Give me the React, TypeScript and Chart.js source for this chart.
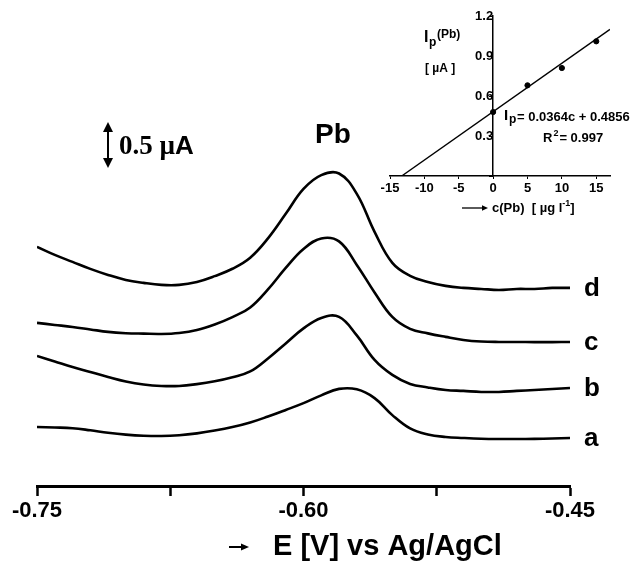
import React, { useEffect, useRef } from 'react';
import { Chart, registerables } from 'chart.js';

Chart.register(...registerables);

// ---------- main voltammogram data ----------
const potentials = [
  -0.75, -0.74, -0.73, -0.72, -0.71, -0.70, -0.69, -0.68, -0.67, -0.66, -0.65,
  -0.64, -0.63, -0.62, -0.61, -0.60, -0.59, -0.58, -0.57, -0.56, -0.55, -0.54,
  -0.53, -0.52, -0.51, -0.50, -0.49, -0.48, -0.47, -0.46, -0.45,
];
const currentA = [
  0.641, 0.636, 0.628, 0.605, 0.578, 0.558, 0.546, 0.543, 0.552, 0.572, 0.602,
  0.640, 0.690, 0.755, 0.826, 0.900, 0.985, 1.055, 1.050, 0.955, 0.770, 0.625,
  0.560, 0.533, 0.522, 0.514, 0.511, 0.511, 0.512, 0.516, 0.522,
];
const currentB = [
  1.413, 1.353, 1.293, 1.239, 1.185, 1.136, 1.103, 1.087, 1.087, 1.107, 1.138,
  1.182, 1.245, 1.386, 1.549, 1.712, 1.826, 1.837, 1.636, 1.370, 1.207, 1.109,
  1.071, 1.043, 1.033, 1.022, 1.022, 1.033, 1.043, 1.054, 1.065,
];
const currentC = [
  1.772, 1.750, 1.728, 1.701, 1.674, 1.660, 1.655, 1.652, 1.663, 1.695, 1.755,
  1.835, 1.940, 2.136, 2.370, 2.576, 2.690, 2.658, 2.402, 2.103, 1.837, 1.707,
  1.658, 1.620, 1.587, 1.570, 1.565, 1.565, 1.563, 1.563, 1.565,
];
const currentD = [
  2.598, 2.511, 2.435, 2.359, 2.293, 2.239, 2.207, 2.185, 2.185, 2.217, 2.280,
  2.360, 2.480, 2.690, 2.957, 3.228, 3.378, 3.395, 3.174, 2.761, 2.424, 2.283,
  2.217, 2.174, 2.152, 2.141, 2.130, 2.141, 2.141, 2.152, 2.152,
];
const seriesNames = ['a', 'b', 'c', 'd'];
const xTickLabels = ['-0.75', '-0.60', '-0.45'];
const scaleBarValue = 0.5;
const scaleBarText = '0.5 \u00b5';
const scaleBarUnit = 'A';
const peakLabel = 'Pb';
const xTitle = 'E [V] vs Ag/AgCl';

// ---------- inset calibration data ----------
const calConc = [0, 5, 10, 15];
const calIp = [0.48, 0.68, 0.81, 1.01];
const fitConc = [-13.3, 17];
const fitIp = [0, 1.1];
const insetXTicks = [-15, -10, -5, 0, 5, 10, 15];
const insetYTicks = ['0.3', '0.6', '0.9', '1.2'];
const eqText = '= 0.0364c + 0.4856';
const r2Text = '= 0.997';
const insetXTitle = 'c(Pb)  [ \u00b5g l';
const insetXTitleSup = '-1';

const SANS = '"Liberation Sans", Arial, Helvetica, sans-serif';
const SERIF = '"Liberation Serif", "Times New Roman", serif';

const INSET_LEFT = 330;

function arrowRight(ctx: CanvasRenderingContext2D, x0: number, x1: number, y: number, lw: number, head: number) {
  ctx.lineWidth = lw;
  ctx.beginPath();
  ctx.moveTo(x0, y);
  ctx.lineTo(x1 - head, y);
  ctx.stroke();
  ctx.beginPath();
  ctx.moveTo(x1, y);
  ctx.lineTo(x1 - head, y - head * 0.45);
  ctx.lineTo(x1 - head, y + head * 0.45);
  ctx.closePath();
  ctx.fill();
}

export default function App() {
  const mainRef = useRef<HTMLCanvasElement>(null);
  const insetRef = useRef<HTMLCanvasElement>(null);

  useEffect(() => {
    const series = [currentA, currentB, currentC, currentD];
    const datasets = series.map((s, i) => ({
      label: seriesNames[i],
      data: potentials.map((e, j) => ({ x: e, y: s[j] })),
      borderColor: '#000',
      backgroundColor: '#000',
      borderWidth: 2.6,
      pointRadius: 0,
      tension: 0.4,
      fill: false,
    }));

    const mainDecor = {
      id: 'mainDecor',
      afterDraw(chart: any) {
        const { ctx, chartArea, scales } = chart;
        const ys = scales.y;
        ctx.save();
        ctx.fillStyle = '#000';
        ctx.strokeStyle = '#000';

        // curve labels
        ctx.font = `bold 26px ${SANS}`;
        ctx.textAlign = 'left';
        ctx.textBaseline = 'alphabetic';
        series.forEach((s, i) => {
          const py = ys.getPixelForValue(s[s.length - 1]);
          ctx.fillText(seriesNames[i], chartArea.right + 14, py + 8);
        });

        // peak label
        ctx.font = `bold 28px ${SANS}`;
        ctx.textAlign = 'center';
        ctx.fillText(peakLabel, 333, 143);

        // scale bar
        const len = ys.getPixelForValue(0) - ys.getPixelForValue(scaleBarValue);
        const bx = 108;
        const bBottom = 168;
        const bTop = bBottom - len;
        ctx.lineWidth = 2;
        ctx.beginPath();
        ctx.moveTo(bx, bTop + 8);
        ctx.lineTo(bx, bBottom - 8);
        ctx.stroke();
        ctx.beginPath();
        ctx.moveTo(bx, bTop);
        ctx.lineTo(bx - 5, bTop + 10);
        ctx.lineTo(bx + 5, bTop + 10);
        ctx.closePath();
        ctx.fill();
        ctx.beginPath();
        ctx.moveTo(bx, bBottom);
        ctx.lineTo(bx - 5, bBottom - 10);
        ctx.lineTo(bx + 5, bBottom - 10);
        ctx.closePath();
        ctx.fill();
        ctx.textAlign = 'left';
        ctx.font = `bold 27px ${SERIF}`;
        ctx.fillText(scaleBarText, 119, 154);
        const w = ctx.measureText(scaleBarText).width;
        ctx.font = `bold 26px ${SANS}`;
        ctx.fillText(scaleBarUnit, 119 + w, 154);

        // x title
        arrowRight(ctx, 229, 249, 547, 2, 8);
        ctx.font = `bold 29px ${SANS}`;
        ctx.textAlign = 'left';
        ctx.fillText(xTitle, 273, 555);
        ctx.restore();
      },
    };

    const main = new Chart(mainRef.current as HTMLCanvasElement, {
      type: 'line',
      data: { datasets },
      options: {
        responsive: false,
        animation: false,
        maintainAspectRatio: false,
        layout: { padding: { left: 37, right: 65, top: 0, bottom: 0 } },
        plugins: { legend: { display: false }, tooltip: { enabled: false } },
        scales: {
          x: {
            type: 'linear',
            min: -0.75,
            max: -0.45,
            afterFit: (s: any) => {
              s.height = 78;
            },
            border: { display: true, color: '#000', width: 3 },
            grid: {
              display: true,
              drawOnChartArea: false,
              drawTicks: true,
              tickLength: 10,
              tickColor: '#000',
              tickWidth: 2.5,
              color: '#000',
            },
            ticks: {
              stepSize: 0.075,
              autoSkip: false,
              maxRotation: 0,
              padding: 2,
              color: '#000',
              font: { family: SANS, size: 22, weight: 'bold' },
              callback: (v: any) => {
                const s = Number(v).toFixed(2);
                return xTickLabels.includes(s) ? s : '';
              },
            },
          },
          y: { type: 'linear', display: false, min: 0, max: 5.28 },
        },
      } as any,
      plugins: [mainDecor],
    });

    const insetDecor = {
      id: 'insetDecor',
      afterDraw(chart: any) {
        const { ctx } = chart;
        const ox = -INSET_LEFT;
        ctx.save();
        ctx.fillStyle = '#000';
        ctx.strokeStyle = '#000';
        ctx.textAlign = 'left';
        ctx.textBaseline = 'alphabetic';
        // y title
        ctx.font = `bold 16px ${SANS}`;
        ctx.fillText('I', 424 + ox, 42);
        ctx.font = `bold 12px ${SANS}`;
        ctx.fillText('p', 429 + ox, 46);
        ctx.fillText('(Pb)', 437 + ox, 38);
        ctx.fillText('[ \u00b5A ]', 425 + ox, 72);
        // equation
        ctx.font = `bold 15px ${SANS}`;
        ctx.fillText('I', 504 + ox, 120);
        ctx.font = `bold 12px ${SANS}`;
        ctx.fillText('p', 509 + ox, 123);
        ctx.font = `bold 13px ${SANS}`;
        ctx.fillText(eqText, 517 + ox, 121);
        ctx.fillText('R', 543 + ox, 142);
        const rw = ctx.measureText('R').width;
        ctx.font = `bold 9px ${SANS}`;
        ctx.fillText('2', 543 + rw + 1 + ox, 136);
        ctx.font = `bold 13px ${SANS}`;
        ctx.fillText(r2Text, 543 + rw + 7 + ox, 142);
        // x title
        arrowRight(ctx, 462 + ox, 488 + ox, 208, 1.3, 6);
        ctx.font = `bold 13px ${SANS}`;
        ctx.fillText(insetXTitle, 492 + ox, 212);
        const tw = ctx.measureText(insetXTitle).width;
        ctx.font = `bold 9px ${SANS}`;
        ctx.fillText(insetXTitleSup, 492 + tw + ox, 206);
        const sw = ctx.measureText(insetXTitleSup).width;
        ctx.font = `bold 13px ${SANS}`;
        ctx.fillText(']', 492 + tw + sw + ox, 212);
        ctx.restore();
      },
    };

    const inset = new Chart(insetRef.current as HTMLCanvasElement, {
      type: 'scatter',
      data: {
        datasets: [
          {
            label: 'fit',
            data: fitConc.map((c, i) => ({ x: c, y: fitIp[i] })),
            showLine: true,
            borderColor: '#000',
            borderWidth: 1.4,
            pointRadius: 0,
          },
          {
            label: 'points',
            data: calConc.map((c, i) => ({ x: c, y: calIp[i] })),
            showLine: false,
            pointRadius: 2.6,
            backgroundColor: '#000',
            borderColor: '#000',
          },
        ],
      },
      options: {
        responsive: false,
        animation: false,
        maintainAspectRatio: false,
        layout: { padding: { left: 60, right: 25, top: 16, bottom: 0 } },
        plugins: { legend: { display: false }, tooltip: { enabled: false } },
        scales: {
          x: {
            type: 'linear',
            min: -15,
            max: 17,
            position: 'bottom',
            afterFit: (s: any) => {
              s.height = 54;
            },
            border: { display: true, color: '#000', width: 1.5 },
            grid: {
              display: true,
              drawOnChartArea: false,
              drawTicks: true,
              tickLength: 3,
              tickColor: '#000',
              color: '#000',
            },
            ticks: {
              stepSize: 5,
              includeBounds: false,
              autoSkip: false,
              maxRotation: 0,
              padding: 2,
              color: '#000',
              font: { family: SANS, size: 13, weight: 'bold' },
              callback: (v: any) => (insetXTicks.includes(Number(v)) ? String(v) : ''),
            },
          },
          y: {
            type: 'linear',
            min: 0,
            max: 1.2,
            position: { x: 0 },
            border: { display: true, color: '#000', width: 1.5 },
            grid: {
              display: true,
              drawOnChartArea: false,
              drawTicks: true,
              tickLength: 3,
              tickColor: '#000',
              color: '#000',
            },
            ticks: {
              stepSize: 0.3,
              autoSkip: false,
              padding: 1,
              color: '#000',
              font: { family: SANS, size: 13, weight: 'bold' },
              callback: (v: any) => {
                const s = Number(v).toFixed(1);
                return insetYTicks.includes(s) ? s : '';
              },
            },
          },
        },
      } as any,
      plugins: [insetDecor],
    });

    return () => {
      main.destroy();
      inset.destroy();
    };
  }, []);

  return (
    <div
      style={{
        position: 'fixed',
        left: 0,
        top: 0,
        width: 635,
        height: 564,
        background: '#fff',
        overflow: 'hidden',
      }}
    >
      <canvas ref={mainRef} width={635} height={564} style={{ position: 'absolute', left: 0, top: 0 }} />
      <canvas ref={insetRef} width={305} height={230} style={{ position: 'absolute', left: INSET_LEFT, top: 0 }} />
    </div>
  );
}
